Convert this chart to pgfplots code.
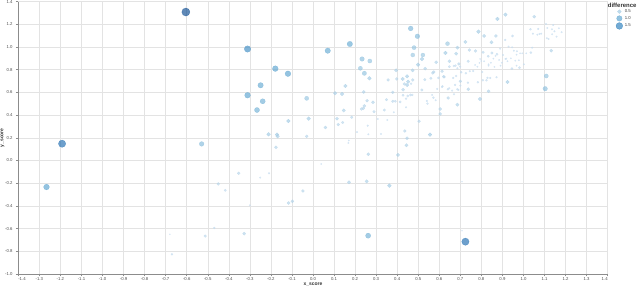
\documentclass[border=0pt]{standalone}
\usepackage{fontspec}
\setmainfont{Liberation Sans}
\usepackage{pgfplots}
\pgfplotsset{compat=1.18}
\usepackage{pgfplotstable}
\pgfplotstableread{
x y d
-0.604 1.309 2.2
-1.192 0.148 1.8
-1.266 -0.234 1.1
0.724 -0.716 1.8
-0.311 0.983 1.4
-0.311 0.575 1.1
-0.179 0.810 1.1
-0.119 0.765 1.1
-0.249 0.663 1.0
-0.239 0.522 0.9
-0.266 0.445 0.9
-0.030 0.548 0.6
0.070 0.968 1.0
0.175 1.027 1.0
0.233 0.895 0.7
0.270 0.877 0.6
0.225 0.813 0.6
0.244 0.769 0.65
0.268 0.725 0.5
0.154 0.657 0.45
0.105 0.593 0.45
0.138 0.586 0.45
0.241 0.604 0.35
0.257 0.527 0.3
0.285 0.513 0.35
0.244 0.481 0.35
0.239 0.459 0.3
0.230 0.454 0.3
0.146 0.441 0.4
0.290 0.430 0.25
0.184 0.381 0.25
0.114 0.369 0.35
0.120 0.317 0.3
0.141 0.335 0.25
0.059 0.291 0.35
-0.021 0.369 0.5
-0.117 0.348 0.5
-0.211 0.231 0.5
-0.171 0.228 0.5
-0.168 0.213 0.45
-0.176 0.116 0.35
-0.030 0.213 0.3
-0.529 0.146 0.75
0.260 0.307 0.12
0.209 0.251 0.1
0.263 0.231 0.1
0.323 0.234 0.1
0.308 0.366 0.1
0.339 0.445 0.25
0.349 0.536 0.25
0.379 0.522 0.25
0.391 0.522 0.2
0.414 0.516 0.2
0.428 0.575 0.2
0.442 0.545 0.15
0.450 0.569 0.2
0.463 0.578 0.2
0.466 0.677 0.15
0.379 0.601 0.3
0.395 0.795 0.4
0.357 0.710 0.3
0.398 0.719 0.3
0.426 0.719 0.45
0.447 0.742 0.45
0.452 0.695 0.45
0.434 0.675 0.3
0.474 0.710 0.3
0.447 0.666 0.45
0.473 0.795 0.4
0.436 0.260 0.3
0.447 0.196 0.35
0.444 0.134 0.4
0.464 1.164 0.8
0.496 1.095 0.75
0.480 0.995 0.6
0.474 0.930 0.55
0.522 0.930 0.55
0.518 0.895 0.5
0.499 0.845 0.5
0.876 1.248 0.5
0.914 1.286 0.45
1.051 1.268 0.35
0.786 1.136 0.5
0.813 1.098 0.4
0.869 1.098 0.35
0.948 1.098 0.2
0.913 1.063 0.15
0.848 1.042 0.4
1.033 1.157 0.15
1.045 1.118 0.12
1.070 1.160 0.12
1.076 1.116 0.1
1.107 1.204 0.1
1.141 1.195 0.1
1.113 1.168 0.1
1.135 1.157 0.1
1.147 1.139 0.1
1.136 1.113 0.1
1.181 1.131 0.1
1.111 1.078 0.1
1.157 1.092 0.1
1.066 1.109 0.1
1.084 1.118 0.1
1.168 1.166 0.08
1.119 1.071 0.1
0.639 1.030 0.55
0.686 0.995 0.4
0.724 1.045 0.4
0.629 0.948 0.5
0.680 0.942 0.4
0.743 0.974 0.3
0.772 0.966 0.3
0.808 0.954 0.25
0.850 0.948 0.25
0.874 0.937 0.2
0.832 0.919 0.2
0.585 0.866 0.35
0.648 0.875 0.35
0.693 0.851 0.3
0.737 0.875 0.25
0.669 0.833 0.15
0.677 0.836 0.15
0.686 0.813 0.12
0.699 0.827 0.12
0.794 0.895 0.08
0.799 0.877 0.08
0.791 0.860 0.08
0.813 0.875 0.08
0.857 0.898 0.08
0.867 0.922 0.08
0.884 0.886 0.08
0.897 0.862 0.08
0.914 0.895 0.08
0.924 0.875 0.08
0.940 0.901 0.08
0.967 0.933 0.08
0.984 0.945 0.08
0.994 0.945 0.08
1.013 0.945 0.08
0.961 0.880 0.08
0.978 0.884 0.08
0.967 0.836 0.08
0.891 0.836 0.08
0.862 0.825 0.08
0.834 0.848 0.08
0.770 0.842 0.08
0.781 0.827 0.08
0.533 0.810 0.35
0.574 0.780 0.3
0.569 0.772 0.3
0.613 0.787 0.3
0.621 0.739 0.3
0.648 0.827 0.2
0.560 0.725 0.25
0.531 0.713 0.25
0.596 0.728 0.2
0.624 0.736 0.2
0.666 0.728 0.15
0.680 0.745 0.15
0.704 0.778 0.15
0.726 0.769 0.15
0.745 0.787 0.12
0.761 0.789 0.12
0.804 0.780 0.12
0.829 0.728 0.15
0.842 0.728 0.12
0.872 0.734 0.12
0.700 0.698 0.3
0.736 0.686 0.15
0.783 0.690 0.15
0.807 0.707 0.15
0.824 0.707 0.15
0.428 0.624 0.35
0.472 0.578 0.15
0.517 0.622 0.25
0.572 0.554 0.15
0.541 0.525 0.12
0.544 0.501 0.15
0.615 0.654 0.15
0.641 0.628 0.15
0.675 0.666 0.15
0.700 0.660 0.12
0.686 0.628 0.15
0.642 0.551 0.3
0.686 0.492 0.4
0.738 0.628 0.35
0.793 0.542 0.45
0.834 0.610 0.35
0.924 0.692 0.45
1.108 0.745 0.6
1.103 0.633 0.7
1.132 0.968 0.35
0.604 0.454 0.35
0.604 0.410 0.35
0.504 0.346 0.3
0.556 0.228 0.5
0.929 1.004 0.1
0.889 0.986 0.1
0.946 0.998 0.1
0.954 0.968 0.1
0.969 0.963 0.1
1.035 0.951 0.2
0.903 0.930 0.1
0.918 0.898 0.1
0.845 0.862 0.08
0.834 0.836 0.08
0.945 0.810 0.2
0.981 0.818 0.2
1.002 0.848 0.1
1.041 0.995 0.1
0.404 0.049 0.4
0.263 0.055 0.35
0.039 -0.031 0.08
0.170 0.176 0.08
0.168 0.154 0.08
0.590 0.631 0.12
0.613 0.648 0.12
0.647 0.637 0.12
0.661 0.616 0.12
0.691 0.622 0.12
0.566 0.578 0.1
0.583 0.531 0.1
0.670 0.584 0.12
0.384 0.425 0.1
0.442 0.469 0.1
0.353 0.357 0.1
-0.450 -0.207 0.3
-0.680 -0.651 0.05
-0.670 -0.827 0.15
-0.512 -0.666 0.25
-0.469 -0.595 0.15
-0.353 -0.113 0.3
-0.251 -0.151 0.1
-0.209 -0.113 0.12
-0.417 -0.263 0.2
-0.300 -0.395 0.08
-0.116 -0.375 0.35
-0.098 -0.360 0.35
-0.048 -0.269 0.3
0.171 -0.192 0.35
0.255 -0.184 0.4
0.363 -0.222 0.5
-0.327 -0.645 0.35
0.262 -0.663 0.9
0.708 -0.619 0.05
0.708 -0.187 0.05
}\scoredata
\definecolor{legA}{RGB}{165,204,228}
\definecolor{legB}{RGB}{102,170,211}
\definecolor{legC}{RGB}{55,134,192}
\begin{document}
\begin{tikzpicture}
\useasboundingbox (-18.3bp,-14.1bp) rectangle (621.7bp,273.9bp);
\begin{axis}[
  name=ax,
  at={(0,0)}, anchor=south west, scale only axis,
  width=589.4bp, height=272.2bp,
  xmin=-1.4, xmax=1.4, ymin=-1, ymax=1.4,
  xtick={-1.4,-1.3,-1.2,-1.1,-1,-0.9,-0.8,-0.7,-0.6,-0.5,-0.4,-0.3,-0.2,-0.1,0,0.1,0.2,0.3,0.4,0.5,0.6,0.7,0.8,0.9,1,1.1,1.2,1.3,1.4},
  ytick={-1,-0.8,-0.6,-0.4,-0.2,0,0.2,0.4,0.6,0.8,1,1.2,1.4},
  axis lines=left, axis line style={-, draw=black!45, line width=0.5bp},
  grid=major, major grid style={draw=black!11, line width=0.5bp},
  tick align=outside, major tick length=2.5bp, tick style={draw=black!45, line width=0.5bp},
  /pgf/number format/assume math mode=true,
  /pgf/number format/fixed, /pgf/number format/fixed zerofill, /pgf/number format/precision=1,
  xticklabel={\ifnum\ticknum=0 \hphantom{\pgfmathprintnumber{\tick}}\pgfmathprintnumber{\tick}\else\ifnum\ticknum=28 \pgfmathprintnumber{\tick}\hphantom{\pgfmathprintnumber{\tick}}\else\pgfmathprintnumber{\tick}\fi\fi},
  ticklabel style={font=\fontsize{4.3}{5}\selectfont, text=black!70},
  xticklabel style={inner sep=0.5bp},
  yticklabel style={inner sep=0.5bp, xshift=-2.5bp},
  xlabel={x\_score}, ylabel={y\_score},
  label style={font=\bfseries\fontsize{5}{6}\selectfont, text=black!80},
  xlabel style={at={(axis description cs:0.5,0)}, anchor=north, yshift=-9bp, inner sep=0pt},
  ylabel style={at={([xshift=-15.8bp]axis description cs:0,0.5)}, anchor=center, inner sep=0pt},
  legend style={at={(1,1)}, anchor=north west, xshift=8bp, yshift=-7bp, draw=none, fill=none,
    font=\fontsize{4.3}{5}\selectfont, text=black!75, row sep=1.2bp, inner sep=0pt,
    nodes={inner sep=0.5bp}, column sep=1.5bp},
  legend cell align=left,
  colormap={vblues}{rgb255=(207,225,242) rgb255=(190,216,236) rgb255=(168,206,229) rgb255=(143,193,222) rgb255=(116,178,215) rgb255=(91,163,207) rgb255=(69,146,198) rgb255=(49,129,189) rgb255=(32,111,178) rgb255=(18,92,164) rgb255=(10,74,144)},
  point meta min=0, point meta max=2.2,
]
\addplot[scatter, only marks, mark=*,
  point meta=\thisrow{d},
  mark options={fill opacity=0.65, draw opacity=0.7, line width=0.2bp},
  scatter/use mapped color={draw=mapped color, fill=mapped color},
  visualization depends on={2.75*sqrt(\thisrow{d}) \as \rad},
  scatter/@pre marker code/.append style={/tikz/mark size=\rad},
  forget plot] table[x=x, y=y] {\scoredata};
\addlegendimage{legend image code/.code={\filldraw[fill=legA, draw=legA, fill opacity=0.7, line width=0.2bp] (0bp,0bp) circle (1.94bp);}}
\addlegendentry{0.5}
\addlegendimage{legend image code/.code={\filldraw[fill=legB, draw=legB, fill opacity=0.7, line width=0.2bp] (0bp,0bp) circle (2.75bp);}}
\addlegendentry{1.0}
\addlegendimage{legend image code/.code={\filldraw[fill=legC, draw=legC, fill opacity=0.7, line width=0.2bp] (0bp,0bp) circle (3.37bp);}}
\addlegendentry{1.5}
\end{axis}
\node[anchor=north west, inner sep=0pt, font=\bfseries\fontsize{6}{7}\selectfont, text=black!80] at ([yshift=-1.2bp]ax.north east) {difference};
\end{tikzpicture}
\end{document}
